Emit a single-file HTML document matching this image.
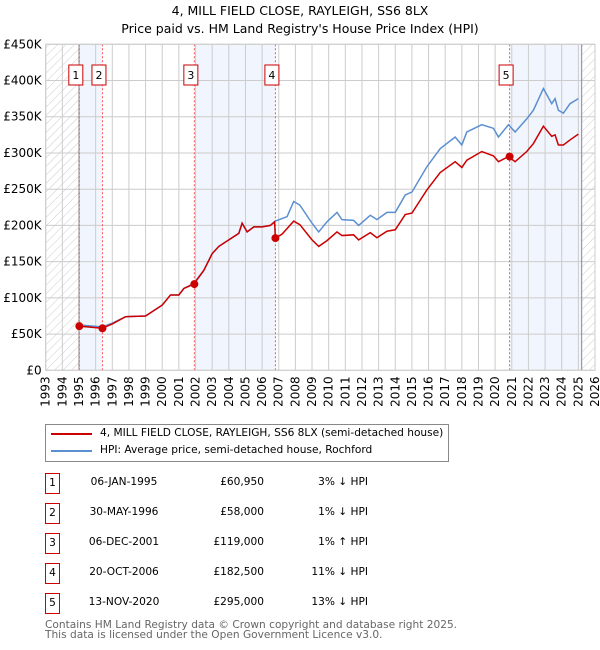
<!DOCTYPE html>
<html><head><meta charset="utf-8"><style>
body{margin:0;background:#fff;font-family:"DejaVu Sans","Liberation Sans",sans-serif;}
#wrap{position:relative;width:600px;height:650px;overflow:hidden}
.t{position:absolute;white-space:nowrap;font-size:10.6px;color:#000}
.nb{position:absolute;width:13px;height:19px;border:1px solid #c00;font-size:10.6px;text-align:center;line-height:19px;background:#fff}
</style></head><body><div id="wrap">
<div class="t" style="left:0;width:600px;text-align:center;top:3px;font-size:12.5px">4, MILL FIELD CLOSE, RAYLEIGH, SS6 8LX</div>
<div class="t" style="left:0;width:600px;text-align:center;top:21px;font-size:12.5px">Price paid vs. HM Land Registry's House Price Index (HPI)</div>
<svg id="ch" width="600" height="410" style="position:absolute;left:0;top:0"></svg>
<div style="position:absolute;left:45px;top:424px;width:402px;height:36px;border:1px solid #888"></div>
<div style="position:absolute;left:51px;top:433px;width:41px;height:2px;background:#c00"></div>
<div class="t" style="left:100px;top:427px">4, MILL FIELD CLOSE, RAYLEIGH, SS6 8LX (semi-detached house)</div>
<div style="position:absolute;left:51px;top:450px;width:41px;height:2px;background:#5b8fd0"></div>
<div class="t" style="left:100px;top:444px">HPI: Average price, semi-detached house, Rochford</div>
<div id="tbl"></div>
<div class="t" style="left:45px;top:620px;color:#666;font-size:10.6px;line-height:10px">Contains HM Land Registry data © Crown copyright and database right 2025.<br>This data is licensed under the Open Government Licence v3.0.</div>
</div>
<script>
const hpiYears=[1995,1996.4,1997,1997.8,1999,2000,2000.5,2001,2001.3,2001.9,2002.5,2003,2003.4,2004,2004.6,2004.8,2005.1,2005.5,2006,2006.5,2006.8,2007.5,2007.9,2008.27,2009,2009.4,2009.9,2010.5,2010.8,2011.5,2011.8,2012.5,2012.9,2013.5,2014,2014.6,2015,2015.9,2016.7,2017.6,2018,2018.3,2019.2,2019.9,2020.2,2020.8,2021.2,2021.9,2022.3,2022.9,2023.4,2023.6,2023.8,2024.1,2024.5,2025];
const hpiValues=[62.5,60,65,74,75,90,104,104,113,120,138,161,171,180,189,203,191,198,198,200,206,212,233,228,203,191,205,218,208,207,200,214,208,218,218,242,246,281,306,322,311,329,339,334,322,339,329,347,359,389,368,375,359,355,368,375];
const priceYears=[1995,1996.4,1997,1997.8,1999,2000,2000.5,2001,2001.3,2001.9,2002.5,2003,2003.4,2004,2004.6,2004.8,2005.1,2005.5,2006,2006.5,2006.75,2006.8,2007.2,2007.9,2008.27,2009,2009.4,2009.9,2010.5,2010.8,2011.5,2011.8,2012.5,2012.9,2013.5,2014,2014.6,2015,2015.9,2016.7,2017.6,2018,2018.3,2019.2,2019.9,2020.2,2020.8,2021.2,2021.9,2022.3,2022.9,2023.4,2023.6,2023.8,2024.1,2024.5,2025];
const priceValues=[61,58,64,74,75,90,104,104,113,119,138,161,171,180,189,203,191,198,198,200,205,182.5,188,206,201,180,171,179,191,186,187,180,190,183,192,194,215,217,249,273,288,280,290,302,296,288,295,288,302,313,337,323,325,311,311,318,326];
const saleLabels=["1","2","3","4","5"];
const saleYears=[1995.02,1996.41,2001.93,2006.8,2020.87];
const salePrices=[60.95,58,119,182.5,295];
const saleDates=["06-JAN-1995","30-MAY-1996","06-DEC-2001","20-OCT-2006","13-NOV-2020"];
const salePriceText=["£60,950","£58,000","£119,000","£182,500","£295,000"];
const saleHpiText=["3% ↓ HPI","1% ↓ HPI","1% ↑ HPI","11% ↓ HPI","13% ↓ HPI"];
const yTicks=[0,50,100,150,200,250,300,350,400,450];
const yTickLabels=["£0","£50K","£100K","£150K","£200K","£250K","£300K","£350K","£400K","£450K"];
const xTicks=[1993,1994,1995,1996,1997,1998,1999,2000,2001,2002,2003,2004,2005,2006,2007,2008,2009,2010,2011,2012,2013,2014,2015,2016,2017,2018,2019,2020,2021,2022,2023,2024,2025,2026];
const X0=45.7,X1=595,Y0=370.3,Y1=44.3;
const xs=y=>X0+(y-1993)/33*(X1-X0);
const ys=v=>Y0-v/450*(Y0-Y1);
const svg=document.getElementById('ch');const NS='http://www.w3.org/2000/svg';
function mk(t,a,p){const e=document.createElementNS(NS,t);for(const k in a)e.setAttribute(k,a[k]);(p||svg).appendChild(e);return e;}
const defs=mk('defs',{});
const pat=mk('pattern',{id:'h',width:6,height:6,patternUnits:'userSpaceOnUse',patternTransform:'rotate(45)'},defs);
mk('line',{x1:0,y1:0,x2:0,y2:6,stroke:'#ccc','stroke-width':1},pat);
let e;
e=mk('rect',{x:X0,y:Y1,width:xs(1995)-X0,height:Y0-Y1,fill:'url(#h)'});

e=mk('rect',{x:xs(2025.2),y:Y1,width:X1-xs(2025.2),height:Y0-Y1,fill:'url(#h)'});

const bands=[[1995.02,1996.41],[2001.93,2006.8],[2020.87,2025.2]];
bands.forEach(b=>{e=mk('rect',{x:xs(b[0]),y:Y1,width:xs(b[1])-xs(b[0]),height:Y0-Y1,fill:'#eef3fc',opacity:0.8});
});
xTicks.forEach(t=>{e=mk('line',{x1:xs(t),x2:xs(t),y1:Y1,y2:Y0,stroke:'#ccc'});
e=mk('text',{x:0,y:0,transform:`translate(${xs(t)+4},${Y0+6}) rotate(-90)`,'text-anchor':'end','font-size':12,'font-family':'DejaVu Sans,sans-serif'});e.textContent=t;
});
yTicks.forEach((t,i)=>{e=mk('line',{x1:X0,x2:X1,y1:ys(t),y2:ys(t),stroke:'#ccc'});
e=mk('text',{x:X0-4,y:ys(t)+4,'text-anchor':'end','font-size':12,'font-family':'DejaVu Sans,sans-serif'});e.textContent=yTickLabels[i];
});
e=mk('line',{x1:xs(1995),x2:xs(1995),y1:Y1,y2:Y0,stroke:'#888'});
e=mk('line',{x1:xs(2025.2),x2:xs(2025.2),y1:Y1,y2:Y0,stroke:'#888'});
saleYears.forEach((y,i)=>{e=mk('line',{x1:xs(y),x2:xs(y),y1:Y1,y2:Y0,stroke:'#f55','stroke-dasharray':'2,2'});
});
e=mk('polyline',{points:hpiYears.map((y,i)=>xs(y)+','+ys(hpiValues[i])).join(' '),fill:'none',stroke:'#5b8fd0','stroke-width':1.5});

e=mk('polyline',{points:priceYears.map((y,i)=>xs(y)+','+ys(priceValues[i])).join(' '),fill:'none',stroke:'#c00','stroke-width':1.5});

saleYears.forEach((y,i)=>{e=mk('circle',{cx:xs(y),cy:ys(salePrices[i]),r:4,fill:'#c00'});

const lx=xs(y)-10.5;
e=mk('rect',{x:lx,y:65,width:14,height:20,fill:'#fff',stroke:'#c00'});
e=mk('text',{x:lx+7,y:79,'text-anchor':'middle','font-size':11,'font-family':'DejaVu Sans,sans-serif'});e.textContent=saleLabels[i];
});
e=mk('rect',{x:X0,y:Y1,width:X1-X0,height:Y0-Y1,fill:'none',stroke:'#ccc'});
const tbl=document.getElementById('tbl');
saleLabels.forEach((l,i)=>{const cy=483+30*i;
const r=document.createElement('div');
r.innerHTML=`<div class="nb" style="left:45px;top:${cy-10}px">${l}</div>
<div class="t" style="left:64px;width:120px;text-align:center;top:${cy-7}px">${saleDates[i]}</div>
<div class="t" style="left:164px;width:100px;text-align:right;top:${cy-7}px">${salePriceText[i]}</div>
<div class="t" style="left:268px;width:100px;text-align:right;top:${cy-7}px">${saleHpiText[i]}</div>`;
tbl.appendChild(r);});
</script></body></html>
